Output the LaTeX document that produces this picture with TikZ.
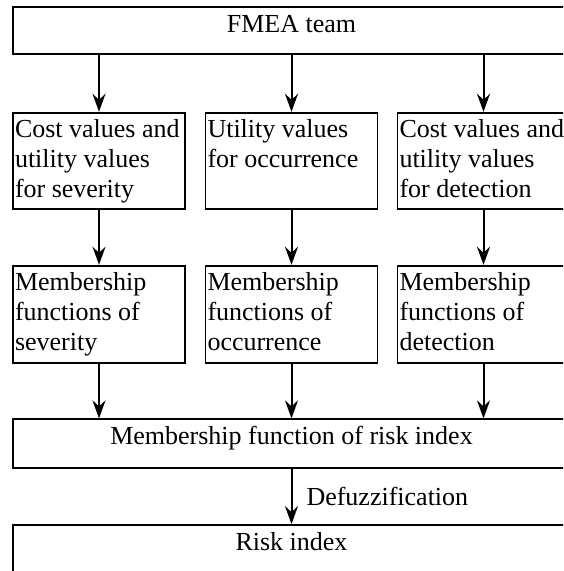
\documentclass[tikz,border=0pt]{standalone}
\usepackage{fontspec}
\setmainfont{Liberation Serif}
\usetikzlibrary{arrows.meta,calc}
\newcommand{\boxtext}[4]{\begin{minipage}[c][#1][t]{#2}#3\rule{0pt}{25pt}#4\end{minipage}}
\begin{document}
\begin{tikzpicture}[x=1pt,y=-1pt,
  nbox/.style={draw, line width=1.8pt, inner sep=0pt, font=\fontsize{26}{30}\selectfont},
  arr/.style={line width=2pt, -{Stealth[length=18pt,width=13pt,inset=6pt]}},
  lbl/.style={inner sep=0pt, font=\fontsize{26}{30}\selectfont}]
\useasboundingbox (0,0) rectangle (563,571);
\fill[white] (0,0) rectangle (563,571);
\clip (0,0) rectangle (563,571);
% top
\node[nbox] (team) at (291.5,30.8) {\boxtext{47pt}{557pt}{\centering}{FMEA team}};
% row 2
\node[nbox] (c1) at (99,160.7) {\boxtext{96pt}{172pt}{\raggedright\hspace*{2pt}}{Cost values and\\\hspace*{2pt}utility values\\\hspace*{2pt}for severity}};
\node[nbox] (c2) at (291.5,160.7) {\boxtext{96pt}{172pt}{\raggedright\hspace*{2pt}}{Utility values\\\hspace*{2pt}for occurrence}};
\node[nbox] (c3) at (483.5,160.7) {\boxtext{96pt}{172pt}{\raggedright\hspace*{2pt}}{Cost values and\\\hspace*{2pt}utility values\\\hspace*{2pt}for detection}};
% row 3
\node[nbox] (m1) at (99,314.2) {\boxtext{97pt}{172pt}{\raggedright\hspace*{2pt}}{Membership\\\hspace*{2pt}functions of\\\hspace*{2pt}severity}};
\node[nbox] (m2) at (291.5,314.2) {\boxtext{97pt}{172pt}{\raggedright\hspace*{2pt}}{Membership\\\hspace*{2pt}functions of\\\hspace*{2pt}occurrence}};
\node[nbox] (m3) at (483.5,314.2) {\boxtext{97pt}{172pt}{\raggedright\hspace*{2pt}}{Membership\\\hspace*{2pt}functions of\\\hspace*{2pt}detection}};
% row 4
\node[nbox] (mf) at (291.5,443.5) {\boxtext{48.4pt}{557pt}{\centering}{Membership function of risk index}};
% row 5
\node[nbox] (ri) at (291.5,549.5) {\boxtext{49pt}{557pt}{\centering}{Risk index}};
% arrows
\foreach \c in {c1,c2,c3}{
  \draw[arr] (team.south -| \c.north) -- (\c.north);
}
\draw[arr] (c1) -- (m1);
\draw[arr] (c2) -- (m2);
\draw[arr] (c3) -- (m3);
\draw[arr] (m1.south) -- (m1.south |- mf.north);
\draw[arr] (m2.south) -- (m2.south |- mf.north);
\draw[arr] (m3.south) -- (m3.south |- mf.north);
\draw[arr] (mf.south) -- node[lbl, midway, right=14pt] {Defuzzification} (ri.north);
\end{tikzpicture}
\end{document}
